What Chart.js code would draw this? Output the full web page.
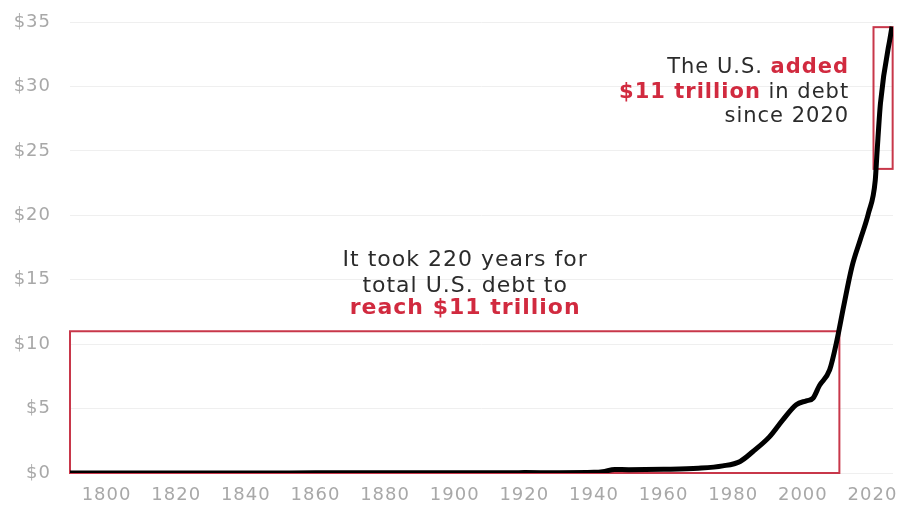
<!DOCTYPE html>
<html>
<head>
<meta charset="utf-8">
<script src="https://cdn.jsdelivr.net/npm/chart.js@4"></script>
<style>
  html, body { margin: 0; padding: 0; background: #fff; }
  #wrap { width: 904px; height: 505px; }
</style>
</head>
<body>
<div id="wrap"><canvas id="myChart" width="904" height="505"></canvas></div>
<script>
// total U.S. debt, trillions of dollars
const years = [1789.5, 1800, 1820, 1840, 1860, 1880, 1900, 1917, 1920, 1930, 1940, 1942.5, 1946, 1950, 1960, 1970, 1977, 1982, 1985.6, 1990.4, 1994.2, 1998.1, 2001, 2002.9, 2004.8, 2007.7, 2009.8, 2011.7, 2014.1, 2016.5, 2018.9, 2020.8, 2021.3, 2022.3, 2025.6];
const debt  = [0, 0, 0, 0, 0.01, 0.02, 0.01, 0.01, 0.03, 0.02, 0.05, 0.1, 0.27, 0.26, 0.29, 0.37, 0.55, 0.9, 1.65, 2.8, 4.1, 5.3, 5.6, 5.8, 6.8, 8.0, 10.3, 12.9, 16.0, 18.1, 20.2, 22.7, 24.8, 28.7, 34.65];

const yTicks = [0, 5, 10, 15, 20, 25, 30, 35];
const xTicks = [1800, 1820, 1840, 1860, 1880, 1900, 1920, 1940, 1960, 1980, 2000, 2020];

// highlighted boxes [x0, x1, y0, y1]
const boxFirst = [1789.5, 2010.5, 0, 11];
const boxRecent = [2020.3, 2025.8, 23.6, 34.6];

const noteLeft = [
  { text: 'It took 220 years for', red: false },
  { text: 'total U.S. debt to', red: false },
  { text: 'reach $11 trillion', red: true }
];
const noteRight = [
  [{ text: 'The U.S. ', red: false }, { text: 'added', red: true }],
  [{ text: '$11 trillion', red: true }, { text: ' in debt', red: false }],
  [{ text: 'since 2020', red: false }]
];

const RED = '#d12a3f';
const INK = '#2b2b2b';
const FONT = '"DejaVu Sans", sans-serif';

const points = years.map((y, i) => ({ x: y, y: debt[i] }));

const notesPlugin = {
  id: 'notes',
  beforeDraw(chart) {
    chart.ctx.letterSpacing = '1px';
  },
  beforeDatasetsDraw(chart) {
    const { ctx, scales: { x, y } } = chart;
    ctx.save();
    ctx.strokeStyle = '#c8374a';
    ctx.lineWidth = 2;
    [boxFirst, boxRecent].forEach(b => {
      const l = x.getPixelForValue(b[0]);
      const r = x.getPixelForValue(b[1]);
      const t = y.getPixelForValue(b[3]);
      const bt = y.getPixelForValue(b[2]);
      ctx.strokeRect(l, t, r - l, bt - t);
    });
    ctx.restore();
  },
  afterDatasetsDraw(chart) {
    const { ctx, scales: { x, y } } = chart;
    ctx.save();
    ctx.textBaseline = 'middle';
    ctx.letterSpacing = '1px';

    // left note, centered
    const cx = x.getPixelForValue(1903);
    const rowsL = [16.52, 14.52, 12.78];
    noteLeft.forEach((ln, i) => {
      ctx.font = (ln.red ? '700 ' : '400 ') + '22px ' + FONT;
      ctx.fillStyle = ln.red ? RED : INK;
      ctx.textAlign = 'center';
      ctx.fillText(ln.text, cx, y.getPixelForValue(rowsL[i]));
    });

    // right note, right aligned
    const rx = x.getPixelForValue(2013.3);
    const rowsR = [31.5, 29.55, 27.7];
    noteRight.forEach((parts, i) => {
      let px = rx;
      ctx.textAlign = 'right';
      for (let k = parts.length - 1; k >= 0; k--) {
        const p = parts[k];
        ctx.font = (p.red ? '700 ' : '400 ') + '21px ' + FONT;
        ctx.fillStyle = p.red ? RED : INK;
        ctx.fillText(p.text, px, y.getPixelForValue(rowsR[i]));
        px -= ctx.measureText(p.text).width;
      }
    });
    ctx.restore();
  }
};

new Chart(document.getElementById('myChart'), {
  type: 'line',
  data: {
    datasets: [{
      data: points,
      borderColor: '#000',
      borderWidth: 5,
      pointRadius: 0,
      fill: false,
      cubicInterpolationMode: 'monotone'
    }]
  },
  plugins: [notesPlugin],
  options: {
    responsive: false,
    animation: false,
    layout: { padding: { top: 22, right: 11, left: 0, bottom: 0 } },
    plugins: { legend: { display: false }, tooltip: { enabled: false } },
    scales: {
      x: {
        type: 'linear',
        min: 1789.5,
        max: 2025.9,
        afterFit(s) { s.height = 32; s.paddingLeft = 0; s.paddingRight = 0; },
        afterBuildTicks(s) { s.ticks = xTicks.map(v => ({ value: v })); },
        grid: { display: false },
        border: { display: false },
        ticks: {
          color: '#a8a8a8',
          font: { family: FONT, size: 18 },
          padding: 4,
          maxRotation: 0,
          autoSkip: false,
          callback: v => String(v)
        }
      },
      y: {
        min: 0,
        max: 35,
        afterFit(s) { s.width = 70; s.paddingTop = 0; s.paddingBottom = 0; },
        afterBuildTicks(s) { s.ticks = yTicks.map(v => ({ value: v })); },
        grid: { color: '#efefef', lineWidth: 1, drawTicks: false },
        border: { display: false },
        ticks: {
          color: '#a8a8a8',
          font: { family: FONT, size: 18 },
          padding: 19,
          callback: v => '$' + v
        }
      }
    }
  }
});
</script>
</body>
</html>
